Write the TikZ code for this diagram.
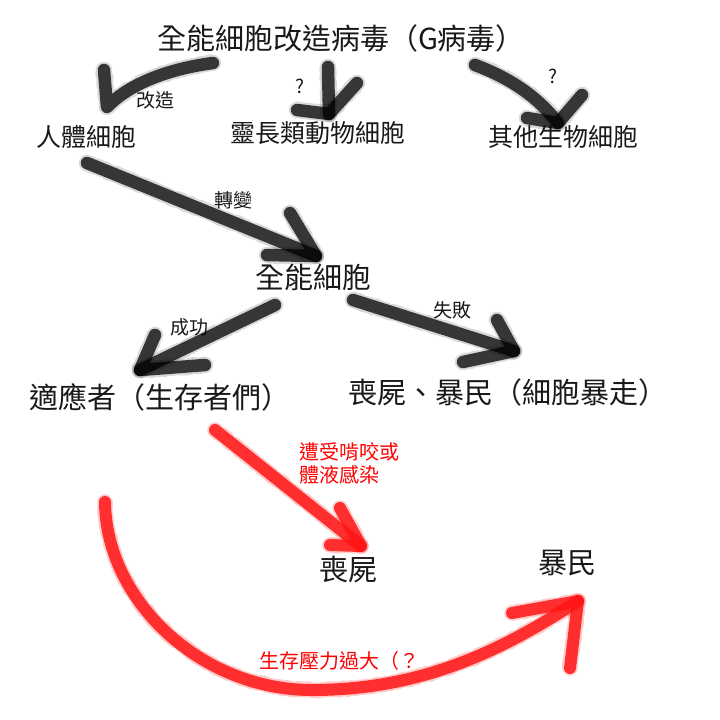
\documentclass[tikz,border=0pt]{standalone}
\usepackage{fontspec}
\usetikzlibrary{decorations.pathmorphing}
\setmainfont{Noto Sans CJK TC}
\definecolor{penred}{RGB}{255,20,20}
\definecolor{txtred}{RGB}{255,0,0}
\begin{document}
\begin{tikzpicture}[x=1pt,y=-1pt,
  lbl/.style={inner sep=0pt, text=black!90},
  big/.style={lbl, font=\fontsize{29pt}{35pt}\selectfont},
  mid/.style={lbl, font=\fontsize{25pt}{30pt}\selectfont},
  small/.style={lbl, font=\fontsize{19pt}{23pt}\selectfont},
  redlbl/.style={inner sep=0pt, text=txtred, font=\fontsize{20pt}{23pt}\selectfont, align=left},
  chalk/.style={draw=black, line width=12.5pt, line cap=round, line join=round, draw opacity=0.75,
    preaction={draw=black, line width=16.5pt, line cap=round, line join=round, draw opacity=0.15,
      decorate, decoration={random steps, segment length=3pt, amplitude=0.8pt}}},
  redchalk/.style={draw=penred, line width=12pt, line cap=round, line join=round, draw opacity=0.85,
    preaction={draw=penred, line width=15.5pt, line cap=round, line join=round, draw opacity=0.22,
      decorate, decoration={random steps, segment length=3pt, amplitude=0.8pt}}}]
\useasboundingbox (0,0) rectangle (720,720);
\fill[white] (0,0) rectangle (720,720);

% texts
\node[big] (virus) at (341,38) {全能細胞改造病毒（G病毒）};
\node[mid] (human) at (86,137) {人體細胞};
\node[mid] (primate) at (318,133) {靈長類動物細胞};
\node[mid] (other) at (563,137) {其他生物細胞};
\node[small] (gaizao) at (155,100) {改造};
\node[small] (q1) at (300,86) {?};
\node[small] (q2) at (553,76) {?};
\node[small] (zhuanbian) at (233,200) {轉變};
\node[big] (stem) at (313,277) {全能細胞};
\node[small] (success) at (189,327) {成功};
\node[small] (fail) at (452,310) {失敗};
\node[big, anchor=west] (adapt) at (29,397) {適應者（生存者們）};
\node[big, anchor=west] (zr) at (348,392) {喪屍、暴民（細胞暴走）};
\node[redlbl, anchor=west] (bite) at (299,463) {遭受啃咬或\\體液感染};
\node[big] (zombie) at (348,570) {喪屍};
\node[big] (mob) at (567,563) {暴民};
\node[redlbl, anchor=west] (stress) at (259,661) {生存壓力過大（？};

% coordinates of the hand-drawn arrows
\coordinate (a1s) at (213,63);  \coordinate (a1t) at (107,107); \coordinate (a1b) at (104,70);
\coordinate (a2s) at (328,67);  \coordinate (a2t) at (329,114); \coordinate (a2b1) at (357,83); \coordinate (a2b2) at (297,110);
\coordinate (a3s) at (475,65);  \coordinate (a3t) at (558,123); \coordinate (a3b1) at (582,95); \coordinate (a3b2) at (527,118);
\coordinate (a4s) at (87,163);  \coordinate (a4t) at (316,256); \coordinate (a4b1) at (290,213); \coordinate (a4b2) at (267,255);
\coordinate (a5s) at (275,305); \coordinate (a5t) at (140,370); \coordinate (a5b1) at (155,335); \coordinate (a5b2) at (205,365);
\coordinate (a6s) at (353,300); \coordinate (a6t) at (514,351); \coordinate (a6b1) at (497,320); \coordinate (a6b2) at (463,362);
\coordinate (r1s) at (215,430); \coordinate (r1t) at (361,546); \coordinate (r1b1) at (340,508); \coordinate (r1b2) at (330,545);
\coordinate (r2s) at (105,502); \coordinate (r2m) at (312,690); \coordinate (r2t) at (578,601);
\coordinate (r2b1) at (512,613); \coordinate (r2b2) at (570,668);

% black arrows
\path[chalk] (a1s) .. controls (160,70) and (125,88) .. (a1t) -- (a1b);
\path[chalk] (a2s) -- (a2t);
\path[chalk] (a2b1) -- (a2t) -- (a2b2);
\path[chalk] (a3s) .. controls (515,80) and (540,100) .. (a3t);
\path[chalk] (a3b1) -- (a3t) -- (a3b2);
\path[chalk] (a4s) -- (a4t);
\path[chalk] (a4b1) -- (a4t) -- (a4b2);
\path[chalk] (a5s) -- (a5t);
\path[chalk] (a5b1) -- (a5t) -- (a5b2);
\path[chalk] (a6s) -- (a6t);
\path[chalk] (a6b1) -- (a6t) -- (a6b2);

% red arrows
\path[redchalk] (r1s) -- (r1t);
\path[redchalk] (r1b1) -- (r1t) -- (r1b2);
\path[redchalk] (r2s) .. controls (106,600) and (200,690) .. (r2m) .. controls (420,690) and (500,652) .. (r2t);
\path[redchalk] (r2b1) -- (r2t) -- (r2b2);
\end{tikzpicture}
\end{document}
